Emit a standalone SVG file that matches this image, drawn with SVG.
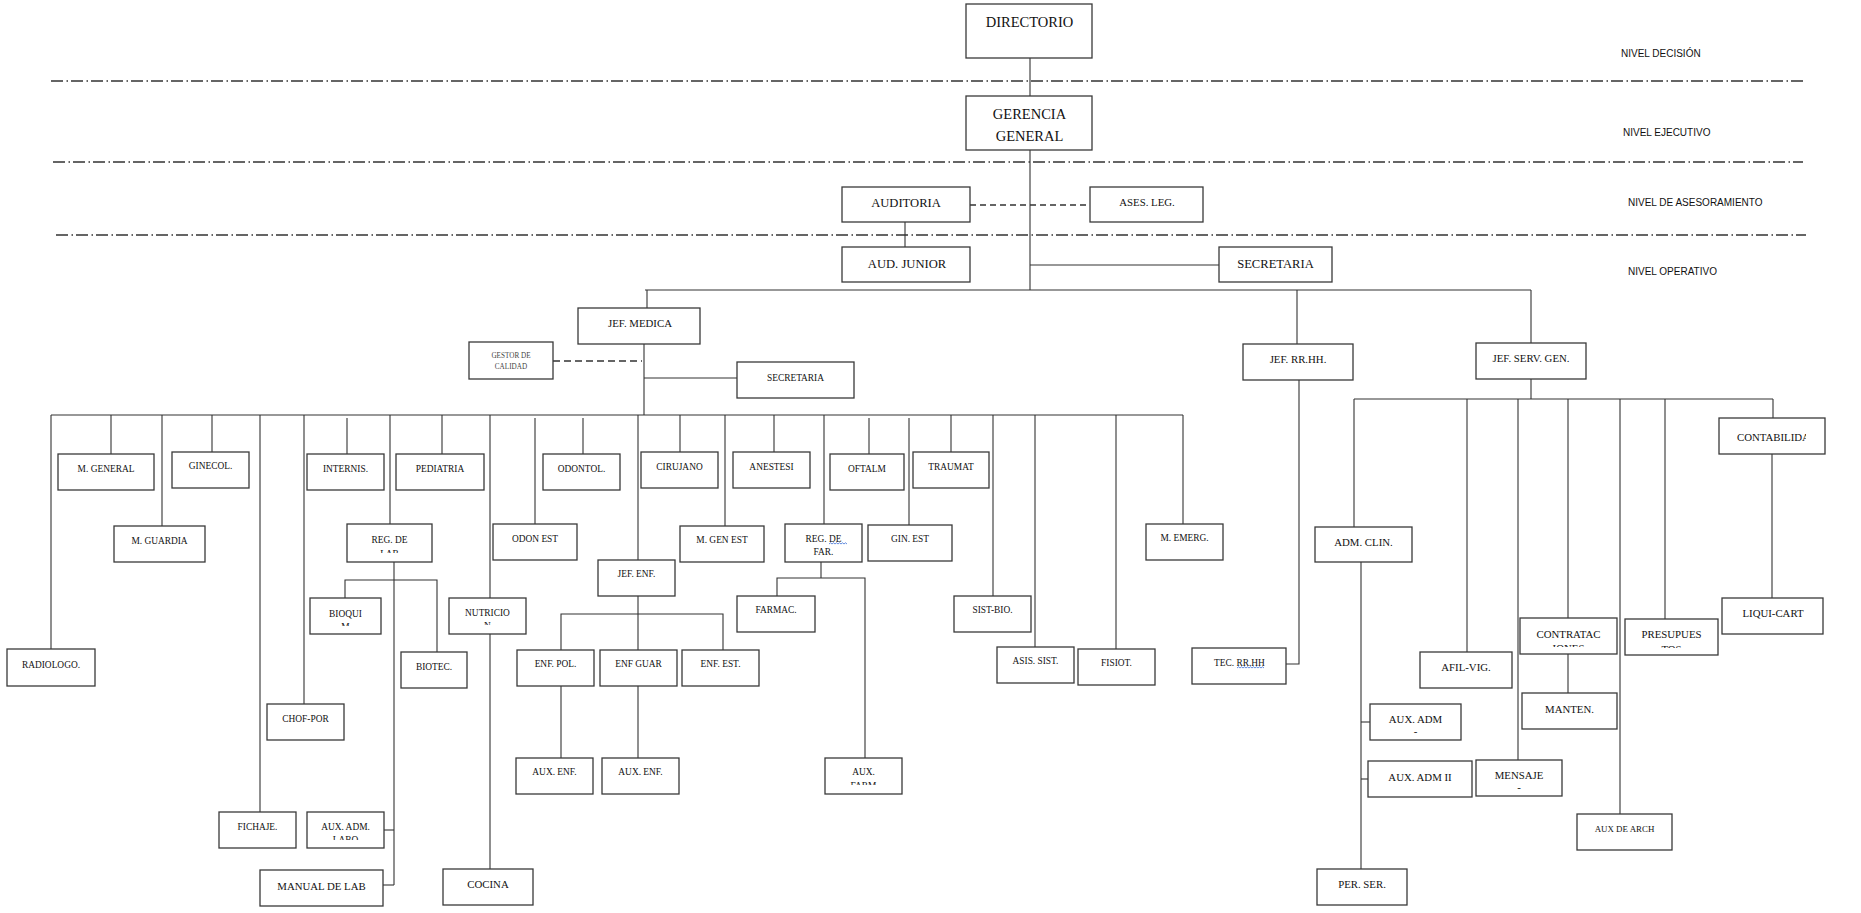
<svg xmlns="http://www.w3.org/2000/svg" width="1861" height="913" viewBox="0 0 1861 913">
<style>
rect.b{fill:#fff;stroke:#3a3a3a;stroke-width:1.3}
text{font-family:"Liberation Serif","DejaVu Serif",serif;fill:#111;text-anchor:middle}
.f14{font-size:14.5px}.f13{font-size:12.6px}.f11{font-size:10.8px}.f9{font-size:9.4px}.f7{font-size:7.2px;fill:#444}
.niv{font-family:"Liberation Sans",Arial,sans-serif;font-size:10px;text-anchor:start}
#connectors line,#connectors polyline{stroke:#333;stroke-width:1.1;fill:none}
#connectors .dash{stroke-dasharray:6 4;stroke-width:1.3}
.lvl{stroke:#333;stroke-width:1.3;stroke-dasharray:12 3.5 1.5 3}
.wavy{stroke:#3b6fd6;stroke-width:0.8;fill:none}
</style>
<defs>
<clipPath id="c-reglab"><rect x="347" y="524" width="85" height="29"/></clipPath>
<clipPath id="c-bioq"><rect x="310" y="598" width="71" height="28"/></clipPath>
<clipPath id="c-nutri"><rect x="449" y="598" width="77" height="27"/></clipPath>
<clipPath id="c-auxlabo"><rect x="307" y="812" width="77" height="28"/></clipPath>
<clipPath id="c-auxfarm"><rect x="825" y="758" width="77" height="27"/></clipPath>
<clipPath id="c-contra"><rect x="1520" y="618" width="97" height="29"/></clipPath>
<clipPath id="c-presu"><rect x="1625" y="619" width="93" height="29"/></clipPath>
<clipPath id="c-conta"><rect x="1719" y="418" width="87" height="36"/></clipPath>
<clipPath id="c-regfar"><rect x="785" y="524" width="77" height="31"/></clipPath>
</defs>
<rect width="1861" height="913" fill="#fff"/>
<g id="levels">
<line class="lvl" x1="51" y1="81" x2="1803" y2="81"/>
<line class="lvl" x1="53" y1="162" x2="1803" y2="162"/>
<line class="lvl" x1="56" y1="235" x2="1806" y2="235"/>
<text class="niv" x="1621" y="57">NIVEL DECISIÓN</text>
<text class="niv" x="1623" y="136">NIVEL EJECUTIVO</text>
<text class="niv" x="1628" y="206">NIVEL DE ASESORAMIENTO</text>
<text class="niv" x="1628" y="275">NIVEL OPERATIVO</text>
</g>
<g id="connectors">
<line x1="1030" y1="58" x2="1030" y2="96"/>
<line x1="1030" y1="150" x2="1030" y2="290"/>
<line x1="1030" y1="265" x2="1219" y2="265"/>
<line x1="905" y1="222" x2="905" y2="247"/>
<line class="dash" x1="970" y1="205" x2="1090" y2="205"/>
<line x1="645" y1="290" x2="1531" y2="290"/>
<line x1="647" y1="290" x2="647" y2="308"/>
<line x1="1297" y1="290" x2="1297" y2="344"/>
<line x1="1531" y1="290" x2="1531" y2="343"/>
<line x1="644" y1="344" x2="644" y2="415"/>
<line class="dash" x1="553" y1="361" x2="642" y2="361" style="stroke-dasharray:7 4"/>
<line x1="644" y1="378" x2="737" y2="378"/>
<line x1="51" y1="415" x2="1183" y2="415"/>
<line x1="51" y1="415" x2="51" y2="649"/>
<line x1="111" y1="415" x2="111" y2="454"/>
<line x1="162" y1="415" x2="162" y2="526"/>
<line x1="212" y1="415" x2="212" y2="452"/>
<line x1="260" y1="415" x2="260" y2="812"/>
<line x1="304" y1="415" x2="304" y2="704"/>
<line x1="347" y1="418" x2="347" y2="454"/>
<line x1="390" y1="415" x2="390" y2="524"/>
<line x1="442" y1="415" x2="442" y2="454"/>
<line x1="490" y1="415" x2="490" y2="598"/>
<line x1="535" y1="418" x2="535" y2="524"/>
<line x1="583" y1="418" x2="583" y2="454"/>
<line x1="638" y1="415" x2="638" y2="560"/>
<line x1="680" y1="415" x2="680" y2="452"/>
<line x1="725" y1="415" x2="725" y2="526"/>
<line x1="774" y1="415" x2="774" y2="452"/>
<line x1="824" y1="415" x2="824" y2="524"/>
<line x1="869" y1="418" x2="869" y2="454"/>
<line x1="909" y1="418" x2="909" y2="525"/>
<line x1="951" y1="415" x2="951" y2="452"/>
<line x1="993" y1="415" x2="993" y2="596"/>
<line x1="1035" y1="415" x2="1035" y2="647"/>
<line x1="1116" y1="415" x2="1116" y2="649"/>
<line x1="1183" y1="415" x2="1183" y2="524"/>
<line x1="394" y1="562" x2="394" y2="885"/>
<polyline points="345,598 345,580 437,580 437,652"/>
<line x1="384" y1="830" x2="394" y2="830"/>
<line x1="383" y1="885" x2="394" y2="885"/>
<line x1="490" y1="634" x2="490" y2="869"/>
<line x1="638" y1="596" x2="638" y2="650"/>
<polyline points="561,650 561,614 723,614 723,650"/>
<line x1="561" y1="686" x2="561" y2="758"/>
<line x1="638" y1="686" x2="638" y2="758"/>
<line x1="821" y1="562" x2="821" y2="578"/>
<polyline points="777,596 777,578 865,578 865,758"/>
<polyline points="1299,380 1299,664 1286,664"/>
<line x1="1531" y1="379" x2="1531" y2="399"/>
<line x1="1354" y1="399" x2="1773" y2="399"/>
<line x1="1354" y1="399" x2="1354" y2="527"/>
<line x1="1467" y1="399" x2="1467" y2="652"/>
<line x1="1518" y1="399" x2="1518" y2="760"/>
<line x1="1568" y1="399" x2="1568" y2="618"/>
<line x1="1620" y1="399" x2="1620" y2="814"/>
<line x1="1665" y1="399" x2="1665" y2="619"/>
<line x1="1773" y1="399" x2="1773" y2="418"/>
<line x1="1772" y1="454" x2="1772" y2="598"/>
<line x1="1568" y1="654" x2="1568" y2="693"/>
<line x1="1361" y1="562" x2="1361" y2="869"/>
<line x1="1361" y1="722" x2="1370" y2="722"/>
<line x1="1361" y1="779" x2="1368" y2="779"/>
</g>
<g id="directorio"><rect class="b" x="966" y="4" width="126" height="54"/><text class="f14" x="1029.5" y="27">DIRECTORIO</text></g>
<g id="gerencia"><rect class="b" x="966" y="96" width="126" height="54"/><text class="f14" x="1029.5" y="119">GERENCIA</text><text class="f14" x="1029.5" y="141">GENERAL</text></g>
<g id="auditoria"><rect class="b" x="842" y="187" width="128" height="35"/><text class="f13" x="906" y="207">AUDITORIA</text></g>
<g id="ases-leg"><rect class="b" x="1090" y="187" width="113" height="35"/><text class="f11" x="1147" y="206">ASES. LEG.</text></g>
<g id="aud-junior"><rect class="b" x="842" y="247" width="128" height="35"/><text class="f13" x="907" y="268">AUD. JUNIOR</text></g>
<g id="secretaria"><rect class="b" x="1219" y="247" width="113" height="35"/><text class="f13" x="1275.5" y="268">SECRETARIA</text></g>
<g id="jef-medica"><rect class="b" x="578" y="308" width="122" height="36"/><text class="f11" x="640" y="327">JEF. MEDICA</text></g>
<g id="gestor-calidad"><rect class="b" x="469" y="342" width="84" height="37"/><text class="f7" x="511" y="358">GESTOR DE</text><text class="f7" x="511" y="369">CALIDAD</text></g>
<g id="secretaria-med"><rect class="b" x="737" y="362" width="117" height="36"/><text class="f9" x="795.5" y="381">SECRETARIA</text></g>
<g id="radiologo"><rect class="b" x="7" y="649" width="88" height="37"/><text class="f9" x="51" y="668">RADIOLOGO.</text></g>
<g id="m-general"><rect class="b" x="58" y="454" width="96" height="36"/><text class="f9" x="106" y="472">M. GENERAL</text></g>
<g id="m-guardia"><rect class="b" x="114" y="526" width="91" height="36"/><text class="f9" x="159.5" y="544">M. GUARDIA</text></g>
<g id="ginecol"><rect class="b" x="172" y="452" width="77" height="36"/><text class="f9" x="210.5" y="469">GINECOL.</text></g>
<g id="fichaje"><rect class="b" x="219" y="812" width="77" height="36"/><text class="f9" x="257.5" y="830">FICHAJE.</text></g>
<g id="chof-por"><rect class="b" x="267" y="704" width="77" height="36"/><text class="f9" x="305.5" y="722">CHOF-POR</text></g>
<g id="internis"><rect class="b" x="307" y="454" width="77" height="36"/><text class="f9" x="345.5" y="472">INTERNIS.</text></g>
<g id="reg-lab"><rect class="b" x="347" y="524" width="85" height="38"/><g clip-path="url(#c-reglab)"><text class="f9" x="389.5" y="543">REG. DE</text><text class="f9" x="389.5" y="557">LAB</text></g></g>
<g id="pediatria"><rect class="b" x="396" y="454" width="88" height="36"/><text class="f9" x="440" y="472">PEDIATRIA</text></g>
<g id="bioquim"><rect class="b" x="310" y="598" width="71" height="36"/><g clip-path="url(#c-bioq)"><text class="f9" x="345.5" y="617">BIOQUI</text><text class="f9" x="345.5" y="630">M</text></g></g>
<g id="biotec"><rect class="b" x="401" y="652" width="66" height="36"/><text class="f9" x="434" y="670">BIOTEC.</text></g>
<g id="aux-adm-labo"><rect class="b" x="307" y="812" width="77" height="36"/><g clip-path="url(#c-auxlabo)"><text class="f9" x="345.5" y="830">AUX. ADM.</text><text class="f9" x="345.5" y="843">LABO</text></g></g>
<g id="manual-lab"><rect class="b" x="260" y="870" width="123" height="36"/><text class="f11" x="321.5" y="890">MANUAL DE LAB</text></g>
<g id="nutricion"><rect class="b" x="449" y="598" width="77" height="36"/><g clip-path="url(#c-nutri)"><text class="f9" x="487.5" y="616">NUTRICIO</text><text class="f9" x="487.5" y="629">N</text></g></g>
<g id="cocina"><rect class="b" x="443" y="869" width="90" height="36"/><text class="f11" x="488" y="888">COCINA</text></g>
<g id="odon-est"><rect class="b" x="493" y="524" width="84" height="36"/><text class="f9" x="535" y="542">ODON EST</text></g>
<g id="odontol"><rect class="b" x="543" y="454" width="77" height="36"/><text class="f9" x="581.5" y="472">ODONTOL.</text></g>
<g id="jef-enf"><rect class="b" x="598" y="560" width="77" height="36"/><text class="f9" x="636.5" y="577">JEF. ENF.</text></g>
<g id="cirujano"><rect class="b" x="641" y="452" width="77" height="36"/><text class="f9" x="679.5" y="470">CIRUJANO</text></g>
<g id="m-gen-est"><rect class="b" x="680" y="526" width="84" height="36"/><text class="f9" x="722" y="543">M. GEN EST</text></g>
<g id="anestesi"><rect class="b" x="733" y="452" width="77" height="36"/><text class="f9" x="771.5" y="470">ANESTESI</text></g>
<g id="reg-far"><rect class="b" x="785" y="524" width="77" height="38"/><g clip-path="url(#c-regfar)"><text class="f9" x="823.5" y="542">REG. DE</text><text class="f9" x="823.5" y="555">FAR.</text></g><path class="wavy" d="M829,544 l1.5,-1.2 l1.5,1.2 l1.5,-1.2 l1.5,1.2 l1.5,-1.2 l1.5,1.2 l1.5,-1.2 l1.5,1.2 l1.5,-1.2 l1.5,1.2 l1.5,-1.2 l1.5,1.2"/></g>
<g id="oftalm"><rect class="b" x="830" y="454" width="74" height="36"/><text class="f9" x="867" y="472">OFTALM</text></g>
<g id="gin-est"><rect class="b" x="868" y="525" width="84" height="36"/><text class="f9" x="910" y="542">GIN. EST</text></g>
<g id="traumat"><rect class="b" x="913" y="452" width="76" height="36"/><text class="f9" x="951" y="470">TRAUMAT</text></g>
<g id="sist-bio"><rect class="b" x="954" y="596" width="77" height="36"/><text class="f9" x="992.5" y="613">SIST-BIO.</text></g>
<g id="asis-sist"><rect class="b" x="997" y="647" width="77" height="36"/><text class="f9" x="1035.5" y="664">ASIS. SIST.</text></g>
<g id="fisiot"><rect class="b" x="1078" y="649" width="77" height="36"/><text class="f9" x="1116.5" y="666">FISIOT.</text></g>
<g id="m-emerg"><rect class="b" x="1146" y="524" width="77" height="36"/><text class="f9" x="1184.5" y="541">M. EMERG.</text></g>
<g id="farmac"><rect class="b" x="737" y="596" width="78" height="36"/><text class="f9" x="776" y="613">FARMAC.</text></g>
<g id="enf-pol"><rect class="b" x="517" y="650" width="77" height="36"/><text class="f9" x="555.5" y="667">ENF. POL.</text></g>
<g id="enf-guar"><rect class="b" x="600" y="650" width="77" height="36"/><text class="f9" x="638.5" y="667">ENF GUAR</text></g>
<g id="enf-est"><rect class="b" x="682" y="650" width="77" height="36"/><text class="f9" x="720.5" y="667">ENF. EST.</text></g>
<g id="aux-enf-1"><rect class="b" x="516" y="758" width="77" height="36"/><text class="f9" x="554.5" y="775">AUX. ENF.</text></g>
<g id="aux-enf-2"><rect class="b" x="602" y="758" width="77" height="36"/><text class="f9" x="640.5" y="775">AUX. ENF.</text></g>
<g id="aux-farm"><rect class="b" x="825" y="758" width="77" height="36"/><g clip-path="url(#c-auxfarm)"><text class="f9" x="863.5" y="775">AUX.</text><text class="f9" x="863.5" y="789">FARM</text></g></g>
<g id="jef-rrhh"><rect class="b" x="1243" y="344" width="110" height="36"/><text class="f11" x="1298" y="363">JEF. RR.HH.</text></g>
<g id="tec-rrhh"><rect class="b" x="1192" y="648" width="94" height="36"/><text class="f9" x="1239.5" y="666">TEC. RR.HH</text><path class="wavy" d="M1237,668 l1.5,-1.2 l1.5,1.2 l1.5,-1.2 l1.5,1.2 l1.5,-1.2 l1.5,1.2 l1.5,-1.2 l1.5,1.2 l1.5,-1.2 l1.5,1.2 l1.5,-1.2 l1.5,1.2 l1.5,-1.2 l1.5,1.2 l1.5,-1.2 l1.5,1.2 l1.5,-1.2 l1.5,1.2"/></g>
<g id="jef-serv-gen"><rect class="b" x="1476" y="343" width="110" height="36"/><text class="f11" x="1531" y="362">JEF. SERV. GEN.</text></g>
<g id="adm-clin"><rect class="b" x="1315" y="527" width="97" height="35"/><text class="f11" x="1363.5" y="546">ADM. CLIN.</text></g>
<g id="aux-adm"><rect class="b" x="1370" y="704" width="91" height="36"/><text class="f11" x="1415.5" y="723">AUX. ADM</text><text class="f11" x="1415.5" y="735">-</text></g>
<g id="aux-adm-ii"><rect class="b" x="1368" y="761" width="104" height="36"/><text class="f11" x="1420" y="781">AUX. ADM II</text></g>
<g id="per-ser"><rect class="b" x="1317" y="869" width="90" height="36"/><text class="f11" x="1362" y="888">PER. SER.</text></g>
<g id="afil-vig"><rect class="b" x="1420" y="652" width="92" height="36"/><text class="f11" x="1466" y="671">AFIL-VIG.</text></g>
<g id="mensaje"><rect class="b" x="1476" y="760" width="86" height="36"/><text class="f11" x="1519" y="779">MENSAJE</text><text class="f11" x="1519" y="791">-</text></g>
<g id="contratac"><rect class="b" x="1520" y="618" width="97" height="36"/><g clip-path="url(#c-contra)"><text class="f11" x="1568.5" y="638">CONTRATAC</text><text class="f11" x="1568.5" y="652">IONES</text></g></g>
<g id="manten"><rect class="b" x="1522" y="693" width="95" height="36"/><text class="f11" x="1569.5" y="713">MANTEN.</text></g>
<g id="aux-arch"><rect class="b" x="1577" y="814" width="95" height="36"/><text class="f9" x="1624.5" y="832" style="font-size:8.9px">AUX DE ARCH</text></g>
<g id="presupues"><rect class="b" x="1625" y="619" width="93" height="36"/><g clip-path="url(#c-presu)"><text class="f11" x="1671.5" y="638">PRESUPUES</text><text class="f11" x="1671.5" y="653">TOS</text></g></g>
<g id="contabilidad"><rect class="b" x="1719" y="418" width="106" height="36"/><g clip-path="url(#c-conta)"><text class="f11" x="1737" y="441" style="text-anchor:start">CONTABILIDAD</text></g></g>
<g id="liqui-cart"><rect class="b" x="1722" y="598" width="101" height="36"/><text class="f11" x="1773" y="617">LIQUI-CART</text></g>
</svg>
